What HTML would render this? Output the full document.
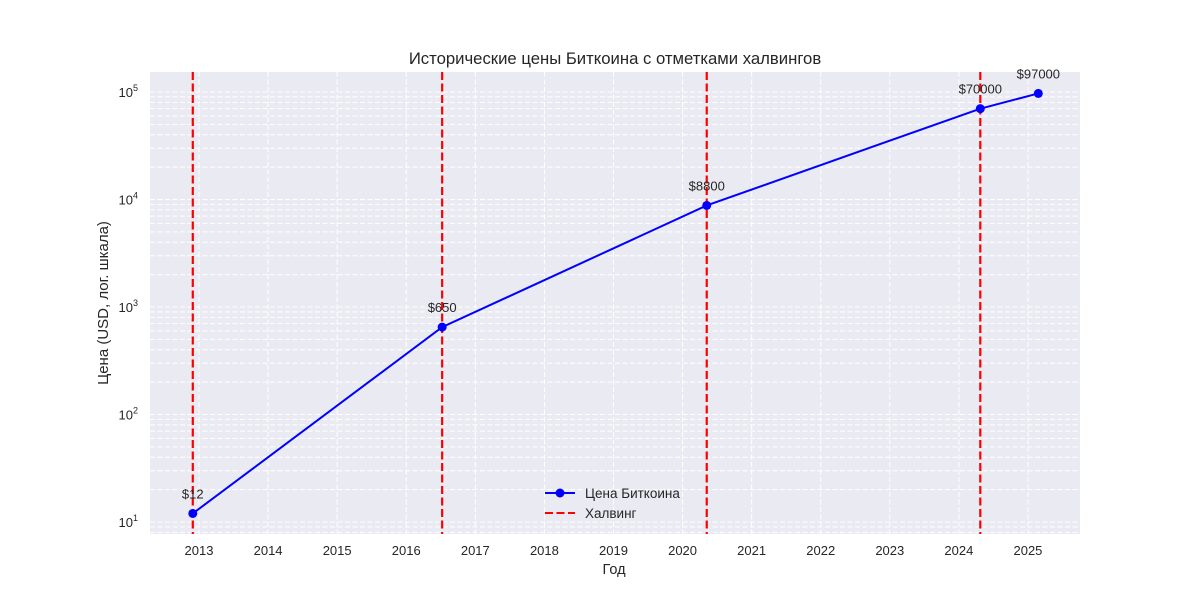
<!DOCTYPE html>
<html><head><meta charset="utf-8"><style>
body{margin:0;background:#fff;}
svg text{font-family:"Liberation Sans","DejaVu Sans",sans-serif;fill:#262626;}
</style></head><body>
<svg id="c" width="1200" height="600"></svg>
<script>
const years=[2012.91,2016.52,2020.35,2024.31,2025.15];
const prices=[12,650,8800,70000,97000];
const priceLabels=["$12","$650","$8800","$70000","$97000"];
const halvings=[2012.91,2016.52,2020.35,2024.31];
const xTicks=[2013,2014,2015,2016,2017,2018,2019,2020,2021,2022,2023,2024,2025];
const yTicks=[1,2,3,4,5];
const L=150,R=1080,T=72,B=534;
const X=v=>199+(v-2013)*69.08;
const Y=v=>522-(Math.log10(v)-1)*107.5;
const svg=document.getElementById('c');
const NS='http://www.w3.org/2000/svg';
function mk(t,a,p){const e=document.createElementNS(NS,t);for(const k in a)e.setAttribute(k,a[k]);(p||svg).appendChild(e);return e;}
const bg=mk('rect',{x:L,y:T,width:R-L,height:B-T,fill:'#eaeaf2'});


const g=mk('g',{stroke:'#fff','stroke-dasharray':'5,2.5','stroke-width':1});


for(let d=0;d<=5;d++)for(let m=1;m<10;m++){const v=m*Math.pow(10,d);const y=Y(v);if(y<T||y>B)continue;mk('line',{x1:L,x2:R,y1:y,y2:y},g);}
xTicks.forEach(t=>{const x=X(t);mk('line',{x1:x,x2:x,y1:T,y2:B},g);});
xTicks.forEach(t=>{const e=mk('text',{x:X(t),y:555,'font-size':13,'text-anchor':'middle'});e.textContent=t;

});
yTicks.forEach(p=>{const e=mk('text',{x:138,y:Y(Math.pow(10,p))+5,'font-size':13,'text-anchor':'end'});e.innerHTML='10<tspan dy="-6" font-size="9">'+p+'</tspan>';

});
halvings.forEach(h=>{const l=mk('line',{x1:X(h),x2:X(h),y1:T,y2:B,stroke:'#ff0000','stroke-width':2.2,'stroke-dasharray':'8,3.5'});

});
const pl=mk('polyline',{points:years.map((y,i)=>X(y)+','+Y(prices[i])).join(' '),fill:'none',stroke:'#0000ff','stroke-width':2});


years.forEach((y,i)=>{const c=mk('circle',{cx:X(y),cy:Y(prices[i]),r:4.5,fill:'#0000ff'});


const t=mk('text',{x:X(y),y:Y(prices[i])-15,'font-size':13,'text-anchor':'middle'});t.textContent=priceLabels[i];

});
</script>
<svg width="1200" height="600" style="position:absolute;left:0;top:0">
<text x="615" y="64" font-size="16.7" text-anchor="middle">Исторические цены Биткоина с отметками халвингов</text>
<text x="614" y="574" font-size="14.5" text-anchor="middle">Год</text>
<text transform="translate(108,303) rotate(-90)" font-size="15" text-anchor="middle">Цена (USD, лог. шкала)</text>
<g>
<line x1="545" x2="575" y1="493" y2="493" stroke="#0000ff" stroke-width="2"/><circle cx="560" cy="493" r="4.5" fill="#0000ff"/>
<text x="585" y="498" font-size="13.5">Цена Биткоина</text>
<line x1="545" x2="575" y1="513" y2="513" stroke="#ff0000" stroke-width="2" stroke-dasharray="8,3.5"/>
<text x="585" y="518" font-size="13.5">Халвинг</text>
</g>
</svg>
</body></html>
